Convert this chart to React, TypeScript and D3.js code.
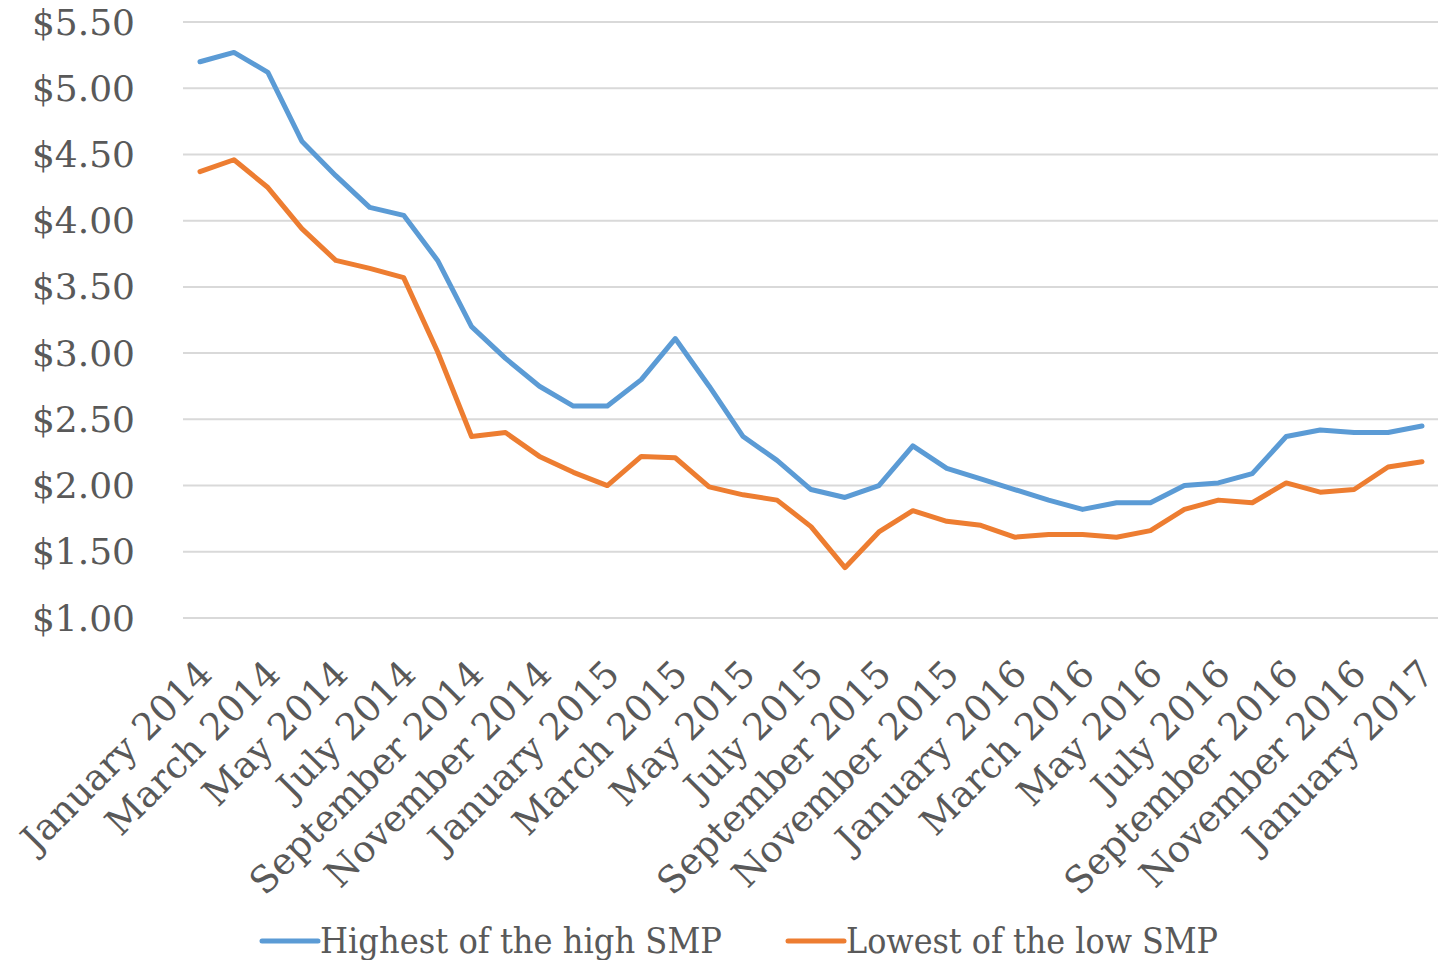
import React from "react";
import * as d3 from "d3";

const months = [
  "January 2014", "February 2014", "March 2014", "April 2014", "May 2014", "June 2014",
  "July 2014", "August 2014", "September 2014", "October 2014", "November 2014", "December 2014",
  "January 2015", "February 2015", "March 2015", "April 2015", "May 2015", "June 2015",
  "July 2015", "August 2015", "September 2015", "October 2015", "November 2015", "December 2015",
  "January 2016", "February 2016", "March 2016", "April 2016", "May 2016", "June 2016",
  "July 2016", "August 2016", "September 2016", "October 2016", "November 2016", "December 2016",
  "January 2017",
];

const highSMP = [
  5.2, 5.27, 5.12, 4.6, 4.34, 4.1, 4.04, 3.7, 3.2, 2.96, 2.75, 2.6, 2.6,
  2.8, 3.11, 2.75, 2.37, 2.19, 1.97, 1.91, 2.0, 2.3, 2.13, 2.05, 1.97,
  1.89, 1.82, 1.87, 1.87, 2.0, 2.02, 2.09, 2.37, 2.42, 2.4, 2.4, 2.45,
];

const lowSMP = [
  4.37, 4.46, 4.25, 3.94, 3.7, 3.64, 3.57, 3.01, 2.37, 2.4, 2.22, 2.1, 2.0,
  2.22, 2.21, 1.99, 1.93, 1.89, 1.69, 1.38, 1.65, 1.81, 1.73, 1.7, 1.61,
  1.63, 1.63, 1.61, 1.66, 1.82, 1.89, 1.87, 2.02, 1.95, 1.97, 2.14, 2.18,
];

const yTicks = [1, 1.5, 2, 2.5, 3, 3.5, 4, 4.5, 5, 5.5];

const series = [
  { name: "Highest of the high SMP", values: highSMP, color: "#5b9bd5" },
  { name: "Lowest of the low SMP", values: lowSMP, color: "#ed7d31" },
];

const width = 1448;
const height = 960;
const font = "Georgia, 'DejaVu Serif', serif";
const textColor = "#595959";

export default function App() {
  const x = d3.scalePoint<string>().domain(months).range([200, 1422]);
  const y = d3.scaleLinear().domain([1, 5.5]).range([618, 22]);
  const line = d3
    .line<number>()
    .x((_, i) => x(months[i]) as number)
    .y((d) => y(d));

  return (
    <svg
      width={width}
      height={height}
      style={{ position: "absolute", left: 0, top: 0, background: "#fff" }}
      fontFamily={font}
    >
      {/* grid + y labels */}
      {yTicks.map((t) => (
        <g key={t}>
          <line x1={183} x2={1438} y1={y(t)} y2={y(t)} stroke="#d9d9d9" strokeWidth={2} />
          <text
            x={135}
            y={y(t)}
            dy="0.35em"
            textAnchor="end"
            fontSize={36}
            fill={textColor}
          >
            {d3.format("$.2f")(t)}
          </text>
        </g>
      ))}

      {/* x labels, every other month */}
      {months.map((m, i) =>
        i % 2 === 0 ? (
          <text
            key={m}
            transform={`translate(${(x(m) as number) + 5},667) rotate(-45)`}
            dy="0.35em"
            textAnchor="end"
            fontSize={37}
            fill={textColor}
          >
            {m}
          </text>
        ) : null
      )}

      {series.map((s) => (
        <path
          key={s.name}
          d={line(s.values) ?? ""}
          fill="none"
          stroke={s.color}
          strokeWidth={5}
          strokeLinejoin="round"
          strokeLinecap="round"
        />
      ))}

      {/* legend */}
      {series.map((s, i) => {
        const lx = i === 0 ? 262 : 788;
        const tl = i === 0 ? 402 : 372;
        return (
          <g key={s.name}>
            <line x1={lx} x2={lx + 56} y1={941} y2={941} stroke={s.color} strokeWidth={5} strokeLinecap="round" />
            <text
              x={lx + 58}
              y={940}
              dy="0.35em"
              fontSize={36}
              fill={textColor}
              textLength={tl}
              lengthAdjust="spacingAndGlyphs"
            >
              {s.name}
            </text>
          </g>
        );
      })}
    </svg>
  );
}
